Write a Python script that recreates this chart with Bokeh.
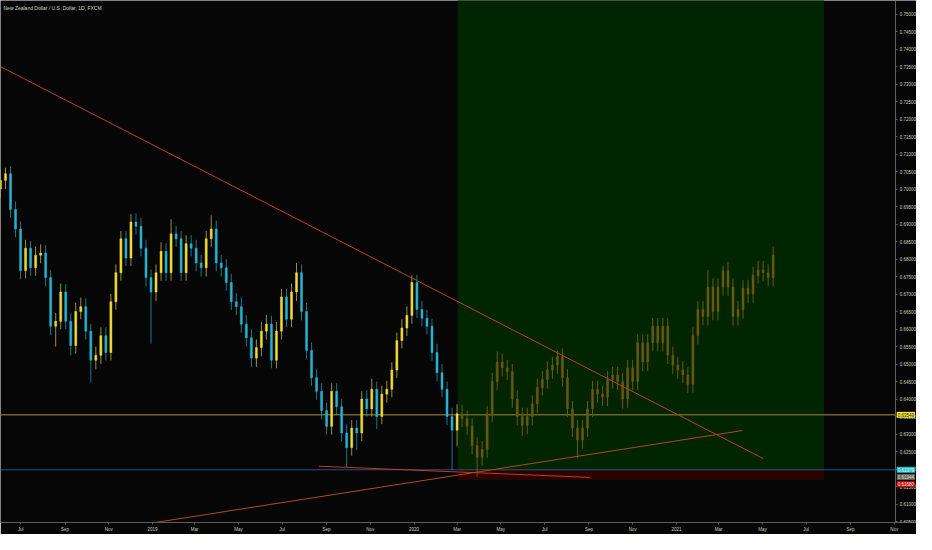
import pandas as pd
from bokeh.plotting import figure
from bokeh.models import (FixedTicker, CustomJSTickFormatter, Label,
                          PrintfTickFormatter, Range1d, ColumnDataSource)
from bokeh.embed import file_html
from bokeh.resources import INLINE
from bokeh.core.properties import value

TITLE = "New Zealand Dollar / U.S. Dollar, 1D, FXCM"

# ---- weekly candles (history) ----
hist_start = "2018-06-03"
hist_first_open = 0.7000
hist_close = [0.7025,0.7044,0.6942,0.6886,0.6767,0.6831,0.6775,0.6811,0.6817,0.6747,
              0.6608,0.6622,0.6706,0.6622,0.6553,0.6650,0.6664,0.6594,0.6511,0.6525,
              0.6581,0.6533,0.6678,0.6761,0.6858,0.6803,0.6906,0.6894,0.6831,0.6747,
              0.6706,0.6761,0.6822,0.6761,0.6872,0.6858,0.6761,0.6844,0.6831,0.6789,
              0.6775,0.6858,0.6886,0.6789,0.6775,0.6733,0.6678,0.6664,0.6614,0.6575,
              0.6517,0.6547,0.6594,0.6614,0.6511,0.6594,0.6692,0.6628,0.6706,0.6761,
              0.6650,0.6539,0.6461,0.6422,0.6367,0.6322,0.6422,0.6378,0.6303,0.6261,
              0.6317,0.6303,0.6400,0.6372,0.6428,0.6350,0.6414,0.6428,0.6483,0.6567,
              0.6603,0.6639,0.6733,0.6656,0.6631,0.6608,0.6533,0.6475,0.6428,0.6350,
              0.6311,0.6358]
hist_high = [0.7055,0.7061,0.7065,0.6965,0.6908,0.6855,0.6852,0.6836,0.6842,0.6840,
             0.6768,0.6646,0.6730,0.6728,0.6645,0.6675,0.6690,0.6688,0.6615,0.6550,
             0.6605,0.6605,0.6700,0.6785,0.6880,0.6880,0.6928,0.6930,0.6918,0.6855,
             0.6770,0.6785,0.6848,0.6845,0.6914,0.6895,0.6880,0.6868,0.6868,0.6855,
             0.6812,0.6880,0.6925,0.6910,0.6812,0.6800,0.6758,0.6703,0.6690,0.6640,
             0.6600,0.6570,0.6620,0.6640,0.6638,0.6620,0.6715,0.6715,0.6730,0.6789,
             0.6785,0.6675,0.6562,0.6485,0.6445,0.6390,0.6445,0.6445,0.6400,0.6328,
             0.6340,0.6340,0.6422,0.6425,0.6458,0.6450,0.6438,0.6452,0.6505,0.6590,
             0.6628,0.6665,0.6753,0.6755,0.6680,0.6655,0.6630,0.6558,0.6500,0.6450,
             0.6375,0.6385]
hist_low = [0.6975,0.7000,0.6918,0.6862,0.6742,0.6745,0.6752,0.6752,0.6788,0.6722,
            0.6583,0.6550,0.6600,0.6600,0.6525,0.6530,0.6628,0.6570,0.6447,0.6485,
            0.6500,0.6510,0.6510,0.6655,0.6738,0.6780,0.6780,0.6870,0.6808,0.6722,
            0.6558,0.6680,0.6738,0.6738,0.6738,0.6835,0.6738,0.6738,0.6808,0.6765,
            0.6750,0.6750,0.6835,0.6765,0.6750,0.6710,0.6655,0.6640,0.6590,0.6550,
            0.6492,0.6492,0.6522,0.6570,0.6488,0.6488,0.6570,0.6605,0.6605,0.6680,
            0.6625,0.6515,0.6438,0.6398,0.6342,0.6298,0.6298,0.6355,0.6280,0.6206,
            0.6238,0.6255,0.6280,0.6350,0.6350,0.6315,0.6328,0.6390,0.6405,0.6460,
            0.6545,0.6580,0.6615,0.6632,0.6608,0.6585,0.6510,0.6450,0.6405,0.6325,
            0.6197,0.6265]

# ---- projected (faded) bars pattern ----
proj_start = "2020-03-08"
proj_close = [0.6344,0.6322,0.6267,0.6233,0.6256,0.6358,0.6450,0.6506,0.6489,0.6478,
              0.6400,0.6350,0.6325,0.6350,0.6386,0.6433,0.6456,0.6483,0.6497,0.6522,
              0.6461,0.6372,0.6317,0.6283,0.6317,0.6372,0.6428,0.6414,0.6406,0.6456,
              0.6469,0.6450,0.6400,0.6489,0.6450,0.6561,0.6506,0.6561,0.6608,0.6561,
              0.6608,0.6525,0.6497,0.6483,0.6469,0.6442,0.6581,0.6656,0.6636,0.6720,
              0.6650,0.6720,0.6767,0.6720,0.6636,0.6656,0.6717,0.6700,0.6753,0.6769,
              0.6761,0.6747,0.6811]
proj_high = [0.6383,0.6368,0.6345,0.6290,0.6280,0.6380,0.6475,0.6536,0.6530,0.6512,
             0.6500,0.6425,0.6375,0.6375,0.6410,0.6458,0.6480,0.6508,0.6520,0.6538,
             0.6545,0.6485,0.6395,0.6340,0.6340,0.6395,0.6452,0.6452,0.6438,0.6480,
             0.6492,0.6492,0.6475,0.6512,0.6512,0.6585,0.6585,0.6585,0.6632,0.6632,
             0.6632,0.6632,0.6550,0.6520,0.6508,0.6492,0.6605,0.6680,0.6680,0.6769,
             0.6745,0.6745,0.6781,0.6792,0.6745,0.6680,0.6740,0.6740,0.6778,0.6795,
             0.6795,0.6785,0.6836]
proj_low = [0.6320,0.6298,0.6242,0.6178,0.6210,0.6232,0.6335,0.6425,0.6465,0.6455,
            0.6375,0.6325,0.6295,0.6300,0.6325,0.6360,0.6410,0.6430,0.6458,0.6472,
            0.6436,0.6348,0.6292,0.6231,0.6258,0.6292,0.6348,0.6390,0.6380,0.6380,
            0.6430,0.6425,0.6372,0.6375,0.6425,0.6425,0.6480,0.6480,0.6536,0.6536,
            0.6536,0.6500,0.6472,0.6458,0.6445,0.6418,0.6418,0.6556,0.6610,0.6610,
            0.6625,0.6625,0.6695,0.6695,0.6610,0.6610,0.6630,0.6675,0.6675,0.6730,
            0.6736,0.6722,0.6722]

# ---- drawings ----
trend_a_dates = ["2018-06-03", "2021-05-02"]
trend_a_prices = [0.7350, 0.6230]
trend_b_dates = ["2018-12-01", "2021-04-03"]
trend_b_prices = [0.6036, 0.6310]
trend_c_dates = ["2019-08-21", "2020-09-03"]
trend_c_prices = [0.6208, 0.6176]

level_yellow = 0.63549
level_blue = 0.61979
zone_start, zone_end = "2020-03-02", "2021-07-26"
zone_entry, zone_stop, zone_target = 0.61979, 0.61680, 0.80

tag_prices = [0.63549, 0.61979, 0.61944, 0.61680]
tag_texts = ["0.63549", "0.61979", "0.61944", "0.61680"]
tag_shift = [0, 0, -6, -4]
tag_bg = ["#f2e43a", "#1fbccc", "#5b5b52", "#cc0808"]
tag_fg = ["#1a1a00", "#e8fff8", "#e6e6d8", "#f4f0e0"]

x_tick_dates = ["2018-07-01","2018-09-01","2018-11-01","2019-01-01","2019-03-01","2019-05-01",
                "2019-07-01","2019-09-01","2019-11-01","2020-01-01","2020-03-01","2020-05-01",
                "2020-07-01","2020-09-01","2020-11-01","2021-01-01","2021-03-01","2021-05-01",
                "2021-07-01","2021-09-01","2021-11-01"]
x_tick_labels = ["Jul","Sep","Nov","2019","Mar","May","Jul","Sep","Nov","2020","Mar","May",
                 "Jul","Sep","Nov","2021","Mar","May","Jul","Sep","Nov"]
y_ticks = [0.605,0.610,0.615,0.620,0.625,0.630,0.635,0.640,0.645,0.650,0.655,0.660,0.665,
           0.670,0.675,0.680,0.685,0.690,0.695,0.700,0.705,0.710,0.715,0.720,0.725,0.730,
           0.735,0.740,0.745,0.750]

# visible price area, and the extra strip right of the price axis
x_start, x_end, x_strip_end = "2018-06-03", "2021-11-03", "2021-12-02"
y_min, y_max = 0.60472, 0.75389

FONT = "Liberation Sans"
BG = "#060606"
AX = "#5e5e5e"
TXT = "#c9d1bb"
W, H = 916, 534

def ms(d):
    return pd.Timestamp(d).value / 1e6

DAY = 86400000.0

p = figure(width=W, height=H, x_axis_type="datetime", y_axis_location="right",
           output_backend="svg", toolbar_location=None,
           x_range=Range1d(ms(x_start), ms(x_strip_end)), y_range=Range1d(y_min, y_max))
p.min_border_left = 0
p.min_border_top = 0
p.min_border_right = 0
p.min_border_bottom = 0
p.background_fill_color = BG
p.border_fill_color = BG
p.outline_line_color = None
p.xgrid.visible = False
p.ygrid.visible = False

# zones
p.quad(left=[ms(zone_start)], right=[ms(zone_end)], bottom=[zone_entry], top=[zone_target],
       fill_color="#002500", line_color=None)
p.quad(left=[ms(zone_start)], right=[ms(zone_end)], bottom=[zone_stop], top=[zone_entry],
       fill_color="#2a0303", line_color=None)

# level lines (stop at the price axis)
p.segment(x0=[ms(x_start)], x1=[ms(x_end)], y0=[level_yellow], y1=[level_yellow],
          line_color="#6f6420", line_width=1.6)
p.segment(x0=[ms(x_start)], x1=[ms(x_end)], y0=[level_blue], y1=[level_blue],
          line_color="#2c4f80", line_width=1.2)

# history candles
h_dates = pd.date_range(hist_start, periods=len(hist_close), freq="7D")
h_open = [hist_first_open] + hist_close[:-1]
h_col = ["#f0dc3a" if c >= o else "#27b4d2" for o, c in zip(h_open, hist_close)]
hs = ColumnDataSource(dict(x=[ms(d) for d in h_dates], o=h_open, c=hist_close,
                           h=hist_high, l=hist_low, col=h_col,
                           top=[max(a, b) for a, b in zip(h_open, hist_close)],
                           bot=[min(a, b) for a, b in zip(h_open, hist_close)]))
p.segment(x0="x", x1="x", y0="l", y1="h", line_color="col", line_alpha=0.65, line_width=1.0, source=hs)
p.vbar(x="x", width=2.8 * DAY, top="top", bottom="bot", fill_color="col", line_color="col",
       line_width=0.5, source=hs)

# projected candles
p_dates = pd.date_range(proj_start, periods=len(proj_close), freq="7D")
p_open = [hist_close[-1]] + proj_close[:-1]
ps = ColumnDataSource(dict(x=[ms(d) for d in p_dates], h=proj_high, l=proj_low,
                           top=[max(a, b) for a, b in zip(p_open, proj_close)],
                           bot=[min(a, b) for a, b in zip(p_open, proj_close)]))
p.segment(x0="x", x1="x", y0="l", y1="h", line_color="#6a5912", line_width=1.0, source=ps)
p.vbar(x="x", width=2.8 * DAY, top="top", bottom="bot", fill_color="#6a5912",
       line_color="#6a5912", line_width=0.5, source=ps)

# trend lines
for ds, ps_, col in [(trend_a_dates, trend_a_prices, "#b8461a"),
                     (trend_b_dates, trend_b_prices, "#b24a1c"),
                     (trend_c_dates, trend_c_prices, "#c23c1a")]:
    p.line([ms(d) for d in ds], ps_, line_color=col, line_width=1.0)

# axes
p.xaxis.ticker = FixedTicker(ticks=[ms(d) for d in x_tick_dates])
p.xaxis.formatter = CustomJSTickFormatter(
    args=dict(tvals=[ms(d) for d in x_tick_dates], tlabels=x_tick_labels),
    code="const i = tvals.indexOf(tick); return i >= 0 ? tlabels[i] : '';")
p.yaxis.ticker = FixedTicker(ticks=y_ticks)
p.yaxis.formatter = PrintfTickFormatter(format="%.5f")
p.yaxis.fixed_location = ms(x_end)
for ax in (p.xaxis, p.yaxis):
    ax.axis_line_color = AX
    ax.major_tick_line_color = AX
    ax.minor_tick_line_color = None
    ax.major_tick_out = 2
    ax.major_tick_in = 0
    ax.major_label_text_font = FONT
    ax.major_label_text_font_size = "4.5px"
    ax.major_label_text_color = TXT
    ax.major_label_standoff = 2

# title
p.add_layout(Label(x=ms(x_start), y=y_max, x_offset=3, y_offset=-7, text=TITLE,
                   text_font=FONT, text_font_size="5px", text_color="#d3dac6",
                   text_baseline="middle"))

# price tags on the price axis
for pr, tx, sh, bg, fg in zip(tag_prices, tag_texts, tag_shift, tag_bg, tag_fg):
    p.add_layout(Label(x=ms(x_end), y=pr, x_offset=1, y_offset=sh, text=tx,
                       text_font=FONT, text_font_size="4.5px", text_color=fg,
                       text_baseline="middle", background_fill_color=bg,
                       padding=1))

open("out.html", "w").write(file_html(p, INLINE))
